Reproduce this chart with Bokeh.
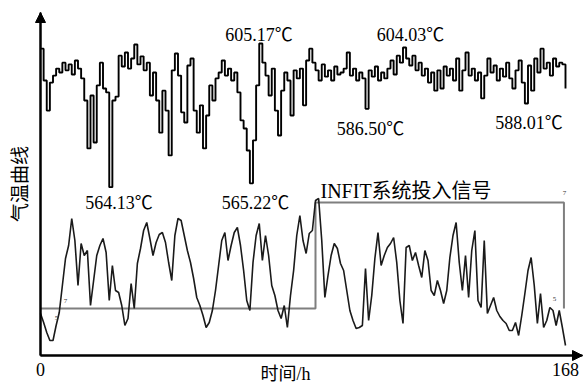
from bokeh.plotting import figure
from bokeh.models import Range1d, LinearAxis, FixedTicker, Label, Arrow, NormalHead
from bokeh.embed import file_html
from bokeh.resources import INLINE

# ---- data -------------------------------------------------------------
hours = list(range(169))

# upper curve: steam temperature (deg C), one reading per hour
upper_temp = [
    603.7, 594.6, 586.0, 594.0, 596.0, 598.0, 596.9, 599.7, 597.5, 599.2,
    596.3, 600.3, 598.0, 595.2, 588.9, 575.2, 590.3, 576.9, 593.2, 599.7,
    592.3, 591.2, 564.13, 588.9, 590.0, 601.7, 598.6, 602.6, 598.0, 600.9,
    604.9, 599.2, 601.5, 597.5, 599.7, 590.3, 596.9, 588.9, 579.7, 591.7,
    586.0, 573.2, 597.5, 602.3, 596.0, 585.5, 582.6, 598.9, 600.9, 586.0,
    579.7, 587.5, 575.2, 584.6, 593.2, 588.9, 595.2, 596.9, 600.3, 596.0,
    598.0, 594.6, 596.9, 591.2, 583.2, 580.9, 574.6, 565.22, 577.5, 593.2,
    605.17, 599.7, 596.0, 590.3, 598.0, 586.0, 578.9, 591.7, 596.9, 594.6,
    584.6, 597.5, 595.2, 598.0, 587.5, 600.3, 603.7, 599.7, 597.5, 594.6,
    599.2, 595.7, 597.5, 594.6, 598.6, 596.3, 596.9, 598.0, 602.6, 596.0,
    598.0, 594.6, 596.9, 595.2, 586.50, 597.5, 595.7, 598.6, 594.6, 596.9,
    595.2, 598.0, 600.3, 596.3, 601.7, 599.7, 604.03, 600.9, 598.9, 601.7,
    597.5, 599.7, 596.0, 598.0, 594.0, 596.9, 591.7, 597.5, 592.3, 598.6,
    596.0, 598.0, 594.6, 600.9, 591.7, 597.5, 602.6, 596.0, 598.0, 594.6,
    596.9, 589.5, 596.0, 600.9, 596.9, 598.9, 594.6, 598.0, 595.7, 599.7,
    595.2, 592.3, 597.5, 600.3, 594.0, 588.01, 598.9, 591.7, 600.9, 596.9,
    603.7, 598.0, 599.7, 596.0, 600.9, 598.6, 599.7, 599.2, 592.3,
]

# lower curve: temperature after INFIT (relative units), one reading per hour
lower_curve = [
    42, 33, 23, 15, 15, 30, 43, 70, 97, 110,
    137, 115, 70, 112, 100, 105, 50, 75, 100, 110,
    117, 103, 55, 90, 65, 63, 50, 30, 37, 72,
    47, 92, 107, 125, 133, 117, 100, 113, 121, 123,
    113, 93, 75, 120, 137, 135, 120, 105, 93, 77,
    58, 50, 40, 28, 33, 45, 65, 90, 115, 123,
    95, 110, 123, 128, 110, 85, 55, 45, 93, 120,
    132, 95, 120, 100, 70, 60, 45, 37, 50, 28,
    60, 85, 120, 140, 115, 102, 122, 125, 155, 157,
    115, 58, 80, 100, 112, 107, 92, 85, 65, 45,
    35, 27, 28, 30, 87, 35, 60, 97, 123, 90,
    100, 108, 112, 118, 93, 55, 32, 108, 110, 95,
    103, 90, 78, 105, 95, 65, 60, 75, 65, 52,
    65, 98, 120, 133, 93, 65, 100, 58, 105, 125,
    55, 48, 115, 42, 50, 58, 45, 39, 35, 32,
    25, 25, 33, 20, 40, 62, 85, 98, 70, 32,
    62, 28, 35, 48, 45, 30, 45, 28, 10,
]

# INFIT system on/off signal
signal_t = [0, 88, 167.5]
signal_v = [0, 1, 0]

upper_labels = ["605.17℃", "604.03℃", "586.50℃", "588.01℃", "564.13℃", "565.22℃"]
upper_label_t = [69.9, 118.4, 105.6, 156.3, 25.1, 68.8]
upper_label_y = [607.46, 607.46, 580.88, 582.6, 559.46, 559.46]

x_ticks = [0, 168]
T_AXIS = 516.03      # temperature at the time axis
T_TOP = 614.03       # top end of the temperature axis
T_END = 173.44       # time at the arrow tip of the time axis

# ---- figure -----------------------------------------------------------
SERIF = "Liberation Serif, Noto Sans CJK SC"
FS = "18px"

p = figure(width=583, height=383, output_backend="svg", toolbar_location=None,
           x_range=Range1d(-12.8, 173.76), y_range=Range1d(508.03, 617.46),
           x_axis_type=None, y_axis_type=None,
           min_border_left=0, min_border_right=0, min_border_top=0,
           min_border_bottom=0)
p.outline_line_color = None
p.background_fill_color = "white"
p.border_fill_color = "white"
p.extra_y_ranges = {"low": Range1d(-28, 355), "sig": Range1d(-0.7075, 2.9057)}

xaxis = LinearAxis(fixed_location=T_AXIS, bounds=(0, T_END),
                   ticker=FixedTicker(ticks=x_ticks),
                   major_tick_line_color=None, minor_tick_line_color=None,
                   axis_line_width=2, axis_line_color="black",
                   major_label_text_font=SERIF, major_label_text_font_size=FS,
                   major_label_text_color="black",
                   major_label_text_align="right", major_label_standoff=1)
p.add_layout(xaxis, "below")

yaxis = LinearAxis(fixed_location=0, bounds=(T_AXIS, T_TOP),
                   ticker=FixedTicker(ticks=[]),
                   major_tick_line_color=None, minor_tick_line_color=None,
                   axis_line_width=2, axis_line_color="black",
                   axis_label="气温曲线", axis_label_text_font=SERIF,
                   axis_label_text_font_size="19px",
                   axis_label_text_font_style="normal",
                   axis_label_text_color="black", axis_label_standoff=10)
p.add_layout(yaxis, "left")

# axis arrow heads
p.add_layout(Arrow(end=NormalHead(size=10, fill_color="black", line_color="black"),
                   x_start=0, y_start=T_AXIS, x_end=0, y_end=T_TOP,
                   line_width=2, line_color="black"))
p.add_layout(Arrow(end=NormalHead(size=10, fill_color="black", line_color="black"),
                   x_start=0, y_start=T_AXIS, x_end=T_END, y_end=T_AXIS,
                   line_width=2, line_color="black"))

# signal
p.step(signal_t, signal_v, mode="after", y_range_name="sig",
       line_color="#7f7f7f", line_width=2)

# curves
p.line(hours, lower_curve, y_range_name="low", line_color="#1a1a1a", line_width=1.6)
p.step(hours, upper_temp, mode="after", line_color="black", line_width=1.9)

for txt, tx, ty in zip(upper_labels, upper_label_t, upper_label_y):
    p.add_layout(Label(x=tx, y=ty, text=txt, text_align="center",
                       text_baseline="alphabetic", text_font=SERIF,
                       text_font_size=FS, text_color="black"))

p.add_layout(Label(x=89.6, y=1.113, y_range_name="sig", text="INFIT系统投入信号",
                   text_align="left", text_baseline="alphabetic",
                   text_font=SERIF, text_font_size="20px", text_color="black"))

# tiny level marks on the signal line
for txt, tx, ty in zip(["7", "5", "7", "5"], [8, 5.1, 167.7, 164.5],
                       [0.05, -0.11, 1.07, 0.075]):
    p.add_layout(Label(x=tx, y=ty, y_range_name="sig", text=txt,
                       text_align="center", text_baseline="bottom",
                       text_font=SERIF, text_font_size="7px", text_color="#333333"))

# time-axis title, at the level of the tick labels
p.add_layout(Label(x=78.4, y=513.6, text="时间/h",
                   text_align="center", text_baseline="top",
                   text_font=SERIF, text_font_size=FS, text_color="black"))

open("out.html", "w").write(file_html(p, INLINE))
